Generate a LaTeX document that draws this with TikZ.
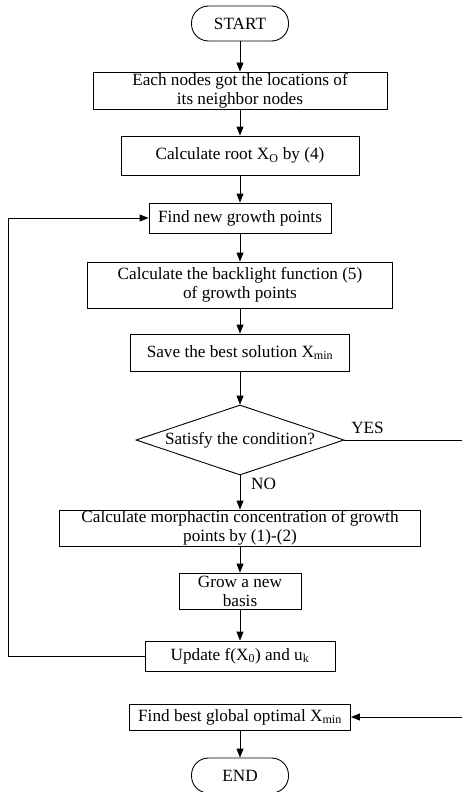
\documentclass[tikz,border=0pt]{standalone}
\usepackage{fontspec}
\setmainfont{Liberation Serif}
\usetikzlibrary{arrows.meta, shapes.geometric}
\tikzset{>={Triangle[length=9pt, width=7pt]}}
\tikzset{
  proc/.style = {draw, inner sep=0pt, align=center},
  term/.style = {draw, rounded corners=17pt, inner sep=0pt, minimum width=97pt, minimum height=35pt},
  decide/.style = {draw, diamond, aspect=3, inner sep=0pt, minimum width=208pt, minimum height=70pt}
}

\begin{document}
\begin{tikzpicture}[x=1pt, y=-1pt, line width=0.9pt, font=\fontsize{17.2}{19}\selectfont]
    \path[use as bounding box, clip] (0,0) rectangle (462,792);
    % main column
    \node[term] (start) at (240,23.5) {START};
    \node[proc, minimum width=294pt, minimum height=37pt] (each) at (240,90.5) {Each nodes got the locations of\\its neighbor nodes};
    \node[proc, minimum width=238pt, minimum height=39pt] (root) at (240,155.5) {Calculate root X\textsubscript{O} by (4)};
    \node[proc, minimum width=182pt, minimum height=30pt] (find) at (240,218) {Find new growth points};
    \node[proc, minimum width=305pt, minimum height=46pt] (light) at (240,285) {Calculate the backlight function (5)\\of growth points};
    \node[proc, minimum width=219pt, minimum height=37pt] (save) at (240,352.5) {Save the best solution X\textsubscript{min}};
    \node[decide] (cond) at (240,440) {Satisfy the condition?};
    \node[proc, minimum width=361pt, minimum height=36pt] (morph) at (240,528) {Calculate morphactin concentration of growth\\points by (1)-(2)};
    \node[proc, minimum width=122pt, minimum height=36pt] (grow) at (240,591) {Grow a new\\basis};
    \node[proc, minimum width=190pt, minimum height=30pt] (update) at (240,656) {Update f(X\textsubscript{0}) and u\textsubscript{k}};
    \node[proc, minimum width=221pt, minimum height=26pt] (best) at (240,717) {Find best global optimal X\textsubscript{min}};
    \node[term] (end) at (240,775.5) {END};
    \node (yes) at (367.5,427.5) {YES};
    \node (no) at (263.5,484) {NO};
    \coordinate (loopx) at (8,0);
    \coordinate (rightx) at (470,0);
    % arrows
    \draw[->] (start) -- (each);
    \draw[->] (each) -- (root);
    \draw[->] (root) -- (find);
    \draw[->] (find) -- (light);
    \draw[->] (light) -- (save);
    \draw[->] (save) -- (cond);
    \draw[->] (cond) -- (morph);
    \draw[->] (morph) -- (grow);
    \draw[->] (grow) -- (update);
    \draw[->] (best) -- (end);
    \draw[->] (update.west) -- (update.west -| loopx) |- (find.west);
    \draw[->] (cond.east) -- (cond.east -| rightx) |- (best.east);
\end{tikzpicture}
\end{document}
